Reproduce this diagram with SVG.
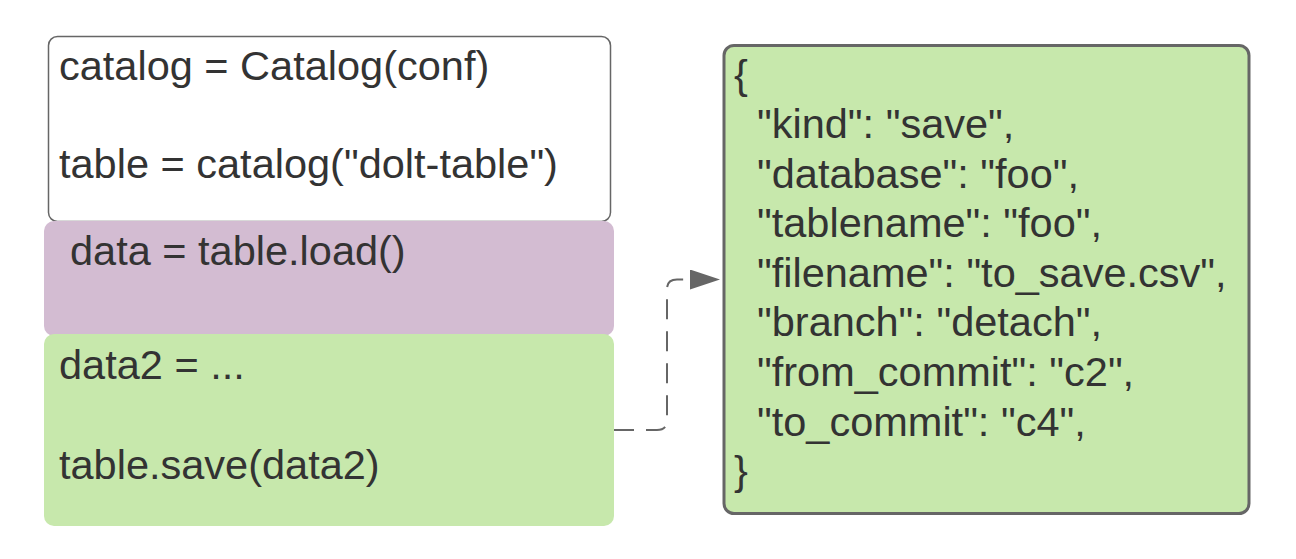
<svg xmlns="http://www.w3.org/2000/svg" width="1296" height="559" viewBox="0 0 1296 559">
<style>
  text { font-family: "Liberation Sans", Arial, sans-serif; font-size: 41.5px; fill: #333333; }
  .conn { fill: none; stroke: #666666; stroke-width: 2; stroke-dasharray: 20 12; }
</style>
<defs>
  <marker id="arrow" markerWidth="30" markerHeight="20" refX="30" refY="10" orient="auto" markerUnits="userSpaceOnUse">
    <polygon points="0,0 30,10 0,20" fill="#666666"/>
  </marker>
</defs>
<rect x="0" y="0" width="1296" height="559" fill="#ffffff"/>
<g id="node-catalog">
  <rect x="48.5" y="36.5" width="562" height="185" rx="9" fill="#ffffff" stroke="#666666" stroke-width="1.5"/>
  <text x="59" y="80">catalog = Catalog(conf)</text>
  <text x="59" y="178">table = catalog("dolt-table")</text>
</g>
<g id="node-load">
  <rect x="44" y="221" width="570" height="115" rx="10" fill="#d3bcd2"/>
  <text x="70" y="265">data = table.load()</text>
</g>
<g id="node-save">
  <rect x="44" y="334" width="570" height="192" rx="10" fill="#c7e8ac"/>
  <text x="59" y="379">data2 = ...</text>
  <text x="59" y="479">table.save(data2)</text>
</g>
<g id="node-json">
  <rect x="724" y="45.5" width="525" height="468" rx="10" fill="#c7e8ac" stroke="#666666" stroke-width="3"/>
  <text x="734" y="89">{</text>
  <text x="757" y="138">"kind": "save",</text>
  <text x="757" y="188">"database": "foo",</text>
  <text x="757" y="237">"tablename": "foo",</text>
  <text x="757" y="287">"filename": "to_save.csv",</text>
  <text x="757" y="336">"branch": "detach",</text>
  <text x="757" y="386">"from_commit": "c2",</text>
  <text x="757" y="436">"to_commit": "c4",</text>
  <text x="734" y="485">}</text>
</g>
<g id="connectors">
  <path class="conn" d="M 614 430 H 657 Q 667 430 667 420 V 289 Q 667 279.5 677 279.5 H 720" marker-end="url(#arrow)"/>
</g>
</svg>
